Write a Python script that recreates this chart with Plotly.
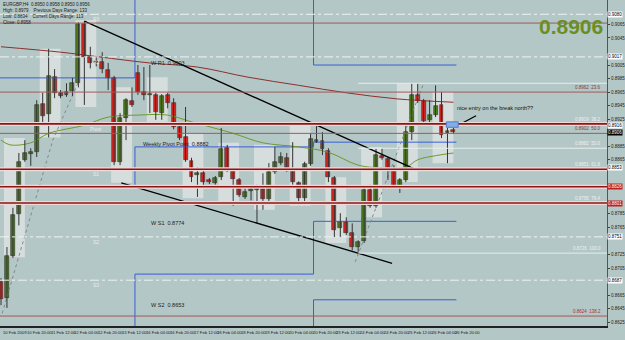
import plotly.graph_objects as go

# ---------------- data (EURGBP H4) ----------------
opens  = [0.8684,0.8661,0.8723,0.8785,0.8865,0.8873,0.8876,0.8947,0.8933,0.8987,
          0.8964,0.8961,0.8967,0.8978,0.9066,0.9017,0.9008,0.9009,0.8998,0.8986,
          0.8862,0.8927,0.8952,0.8993,0.8965,0.8961,0.8961,0.8934,0.8961,0.8949,
          0.8913,0.8898,0.8863,0.8842,0.8845,0.8835,0.8831,0.8839,0.8882,0.8850,
          0.8835,0.8810,0.8819,0.8820,0.8822,0.8807,0.8847,0.8860,0.8868,0.8848,
          0.8831,0.8808,0.8859,0.8891,0.8893,0.8878,0.8838,0.8764,0.8773,0.8757,
          0.8736,0.8745,0.8820,0.8797,0.8871,0.8866,0.8851,0.8825,0.8835,0.8906,
          0.8961,0.8952,0.8924,0.8931,0.8946,0.8904,0.8909]
highs  = [0.8690,0.8736,0.8794,0.8875,0.8894,0.8882,0.8953,0.8964,0.9029,0.8999,
          0.8968,0.8978,0.8986,0.9068,0.9070,0.9032,0.9017,0.9024,0.9008,0.8989,
          0.8934,0.8956,0.8972,0.9005,0.9002,0.9005,0.8964,0.8962,0.8964,0.8956,
          0.8919,0.8943,0.8868,0.8854,0.8850,0.8838,0.8841,0.8912,0.8887,0.8853,
          0.8838,0.8823,0.8825,0.8828,0.8845,0.8860,0.8884,0.8876,0.8875,0.8891,
          0.8833,0.8862,0.8904,0.8916,0.8906,0.8882,0.8841,0.8786,0.8780,0.8771,
          0.8746,0.8823,0.8828,0.8882,0.8882,0.8869,0.8857,0.8838,0.8916,0.8978,
          0.8978,0.8955,0.8953,0.8975,0.8965,0.8912,0.8912]
lows   = [0.8650,0.8646,0.8720,0.8768,0.8862,0.8856,0.8869,0.8916,0.8898,0.8956,
          0.8956,0.8958,0.8959,0.8972,0.8946,0.9000,0.9003,0.8993,0.8968,0.8857,
          0.8857,0.8894,0.8943,0.8961,0.8953,0.8934,0.8924,0.8924,0.8941,0.8910,
          0.8894,0.8862,0.8832,0.8810,0.8826,0.8829,0.8828,0.8835,0.8847,0.8797,
          0.8810,0.8807,0.8805,0.8771,0.8791,0.8804,0.8844,0.8857,0.8847,0.8828,
          0.8798,0.8798,0.8856,0.8890,0.8872,0.8832,0.8751,0.8751,0.8754,0.8731,
          0.8729,0.8742,0.8794,0.8794,0.8865,0.8835,0.8823,0.8816,0.8832,0.8894,
          0.8949,0.8919,0.8919,0.8928,0.8897,0.8860,0.8903]
closes = [0.8659,0.8723,0.8783,0.8862,0.8875,0.8876,0.8946,0.8930,0.8989,0.8964,
          0.8959,0.8965,0.8978,0.9066,0.9017,0.9008,0.9011,0.8999,0.8986,0.8862,
          0.8927,0.8953,0.8946,0.8965,0.8961,0.8962,0.8936,0.8959,0.8949,0.8913,
          0.8897,0.8865,0.8839,0.8845,0.8832,0.8832,0.8838,0.8881,0.8848,0.8836,
          0.8813,0.8817,0.8822,0.8823,0.8807,0.8847,0.8862,0.8869,0.8848,0.8832,
          0.8808,0.8859,0.8896,0.8894,0.8881,0.8839,0.8761,0.8773,0.8757,0.8736,
          0.8743,0.8820,0.8797,0.8872,0.8868,0.8851,0.8826,0.8835,0.8906,0.8961,
          0.8952,0.8922,0.8931,0.8944,0.8901,0.8907,0.8906]

tick_labels = ["10 Feb 2009","10 Feb 20:00","11 Feb 12:00","12 Feb 04:00","12 Feb 20:00",
               "13 Feb 12:00","16 Feb 04:00","16 Feb 20:00","17 Feb 12:00","18 Feb 04:00",
               "18 Feb 20:00","19 Feb 12:00","20 Feb 04:00","20 Feb 20:00","23 Feb 12:00",
               "24 Feb 04:00","24 Feb 20:00","25 Feb 12:00","26 Feb 04:00","26 Feb 20:00"]
tick_every = 4

price_ticks = [0.8625,0.8645,0.8665,0.8685,0.8705,0.8725,0.8745,0.8765,0.8785,0.8805,
               0.8825,0.8845,0.8865,0.8885,0.8905,0.8925,0.8945,0.8965,0.8985,0.9005,
               0.9025,0.9045,0.9065,0.9085]

# moving averages (bar index, price)
ma_slow_x = [0,10,16.5,25,33,41.5,50,58,66.5,76]
ma_slow_y = [0.9032,0.9024,0.9017,0.9008,0.9002,0.8987,0.8975,0.8964,0.8955,0.8950]
ma_fast_x = [0,1.5,5,8,14,18,23,28,32,39,44,50,55,60,64,68,70,73,76]
ma_fast_y = [0.8894,0.8887,0.8890,0.8904,0.8916,0.8928,0.8931,0.8931,0.8921,0.8904,
             0.8890,0.8884,0.8876,0.8857,0.8853,0.8854,0.8865,0.8871,0.8875]

# session boxes (bar index start/end, top/bottom price)
box_start = [1,7,13,19,25,31,37,43,49,55,61,67,73]
box_end   = [4,10,16,22,28,34,40,46,52,58,64,70,76]
box_top   = [0.8897,0.9029,0.9071,0.8972,0.8987,0.8904,0.8890,0.8887,0.8921,0.8839,0.8884,0.8978,0.8965]
box_bot   = [0.8721,0.8898,0.8943,0.8831,0.8921,0.8808,0.8798,0.8791,0.8797,0.8742,0.8780,0.8832,0.8860]

# daily pivot levels
thick_levels = [0.8918,0.8851,0.8825,0.8801]
thin_levels  = [0.9067,0.8965,0.8904,0.8634]
dashdot_levels = [0.9080,0.9017,0.8751,0.8687]
pivot_names = ["R3","R2","Pivot","S1","S2","S3"]
pivot_name_levels = [0.9080,0.9017,0.8918,0.8851,0.8751,0.8687]
fib_levels = [0.8978,0.8882,0.8727]
fib_start = 60

# weekly pivots: week boundaries (bar index) and levels
week_edges = [-0.5,22.5,52.5,76.5]
wk_r1 = [0.8986,0.9120,0.9005]
wk_p  = [0.8825,0.8884,0.8891]
wk_s1 = [0.8600,0.8696,0.8774]
wk_s2 = [0.8600,0.8600,0.8658]

# trend lines
upper_tl_x = [14,69.8];   upper_tl_y = [0.9070,0.8850]
lower_tl_x = [20.2,65.7]; lower_tl_y = [0.8831,0.8712]
dot1_x = [0.2,8.7,13];    dot1_y = [0.8638,0.8894,0.8980]
dot2_x = [59.5,71];       dot2_y = [0.8714,0.8978]
note_x = [76.8,79.8];     note_y = [0.8916,0.8930]

right_labels = [("0.8962  23.6",0.8965,"#8b3a3a"),("0.8919  38.2",0.8918,"#f0f0f0"),
                ("0.8902  50.0",0.8904,"#8b3a3a"),("0.8882  50.0",0.8882,"#f0f0f0"),
                ("0.8851  61.8",0.8851,"#f0f0f0"),("0.8795  76.4",0.8801,"#f0f0f0"),
                ("0.8726  100.0",0.8727,"#f0f0f0"),("0.8624  138.2",0.8634,"#b03030")]

axis_boxes = [(0.9080,"#ffffff","#000"),(0.9017,"#ffffff","#000"),(0.8916,"#ffffff","#000"),
              (0.8906,"#000000","#fff"),(0.8853,"#ffffff","#000"),(0.8826,"#c02020","#fff"),
              (0.8801,"#c02020","#fff"),(0.8751,"#ffffff","#000"),(0.8687,"#ffffff","#000")]

# ---------------- figure ----------------
fig = go.Figure()
n = len(opens)
idx = list(range(n))

wx, wy = [], []
for i in idx:
    wx += [i, i, None]
    wy += [lows[i], highs[i], None]

BG = "#b3c7c6"
shapes = []
for s, e, t, b in zip(box_start, box_end, box_top, box_bot):
    shapes.append(dict(type="rect", xref="x", yref="y", x0=s-0.5, x1=e, y0=b, y1=t,
                       fillcolor="rgba(236,236,236,0.62)", line=dict(width=0), layer="below"))
for lv in thin_levels:
    shapes.append(dict(type="line", xref="paper", yref="y", x0=0, x1=1, y0=lv, y1=lv,
                       line=dict(color="#a15a5a", width=1)))
for lv in dashdot_levels:
    shapes.append(dict(type="line", xref="paper", yref="y", x0=0, x1=1, y0=lv, y1=lv,
                       line=dict(color="#eef2f2", width=1, dash="dashdot")))
for lv in fib_levels:
    shapes.append(dict(type="line", xref="x", yref="y", x0=fib_start, x1=101.8, y0=lv, y1=lv,
                       line=dict(color="#e6eeee", width=1)))
for lv in thick_levels:
    shapes.append(dict(type="line", xref="paper", yref="y", x0=0, x1=1, y0=lv, y1=lv,
                       line=dict(color="#f0d8d8", width=4)))
    shapes.append(dict(type="line", xref="paper", yref="y", x0=0, x1=1, y0=lv, y1=lv,
                       line=dict(color="#8e1414", width=1.6)))
shapes.append(dict(type="rect", xref="x", yref="y", x0=74.8, x1=76.8, y0=0.8913, y1=0.8921,
                   fillcolor="#86aee6", line=dict(color="#4c7cc8", width=1)))

def step(levels):
    xs, ys = [], []
    for k, lv in enumerate(levels):
        xs += [week_edges[k], week_edges[k+1]]
        ys += [lv, lv]
    return xs, ys

for lv in (wk_r1, wk_p, wk_s1, wk_s2):
    xs, ys = step(lv)
    fig.add_trace(go.Scatter(x=xs, y=ys, mode="lines", line=dict(color="#3a5fd6", width=1),
                             hoverinfo="skip", showlegend=False))

fig.add_trace(go.Scatter(x=ma_slow_x, y=ma_slow_y, mode="lines", line=dict(color="#8e2f2f", width=1, shape="spline"),
                         hoverinfo="skip", showlegend=False))
fig.add_trace(go.Scatter(x=ma_fast_x, y=ma_fast_y, mode="lines", line=dict(color="#6f9a2a", width=1, shape="spline"),
                         hoverinfo="skip", showlegend=False))
fig.add_trace(go.Scatter(x=dot1_x, y=dot1_y, mode="lines", line=dict(color="#7d8a8a", width=1, dash="dot"),
                         hoverinfo="skip", showlegend=False))
fig.add_trace(go.Scatter(x=dot2_x, y=dot2_y, mode="lines", line=dict(color="#7d8a8a", width=1, dash="dot"),
                         hoverinfo="skip", showlegend=False))
fig.add_trace(go.Scatter(x=wx, y=wy, mode="lines", line=dict(color="#333333", width=1),
                         hoverinfo="skip", showlegend=False))

bases = [min(o, c) for o, c in zip(opens, closes)]
heights = [max(abs(c - o), 0.00012) for o, c in zip(opens, closes)]
cols = ["#4f7f1c" if c >= o else "#e0221d" for o, c in zip(opens, closes)]
fig.add_trace(go.Bar(x=idx, y=heights, base=bases, width=0.66,
                     marker=dict(color=cols, line=dict(color="#2b2b2b", width=0.6)),
                     hoverinfo="skip", showlegend=False))

for tx, ty in ((upper_tl_x, upper_tl_y), (lower_tl_x, lower_tl_y), (note_x, note_y)):
    fig.add_trace(go.Scatter(x=tx, y=ty, mode="lines", line=dict(color="#000000", width=1.3),
                             hoverinfo="skip", showlegend=False))

ann = []
F = "Liberation Sans, Arial, sans-serif"
for k, lab in enumerate(tick_labels):
    ann.append(dict(x=k*tick_every, y=-0.006, xref="x", yref="paper", text=lab, showarrow=False,
                    xanchor="left", yanchor="top", font=dict(size=4.2, color="#222", family=F)))
for nm, lv in zip(pivot_names, pivot_name_levels):
    ann.append(dict(x=16, y=lv, xref="x", yref="y", text=nm, showarrow=False, yanchor="top",
                    font=dict(size=5, color="#e8eeee", family=F)))
for txt, lv, c in right_labels:
    ann.append(dict(x=0.993, y=lv, xref="paper", yref="y", text=txt, showarrow=False, xanchor="right",
                    yanchor="bottom", font=dict(size=4.5, color=c, family=F)))
ann.append(dict(x=0.9975, y=0.9062, xref="paper", yref="y", text="<b>0.8906</b>", showarrow=False,
                xanchor="right", font=dict(size=21, color="#6b8e23", family=F)))
ann.append(dict(x=76.3, y=0.8941, xref="x", yref="y", text="nice entry on the break north??", showarrow=False,
                xanchor="left", font=dict(size=5.5, color="#111", family=F)))
for txt, x, y in (("W R1  0.9003", 24.8, 0.9008), ("Weekly Pivot Point  0.8882", 23.5, 0.8888),
                  ("W S1  0.8774", 24.8, 0.8771), ("W S2  0.8653", 24.8, 0.8650)):
    ann.append(dict(x=x, y=y, xref="x", yref="y", text=txt, showarrow=False, xanchor="left",
                    font=dict(size=5.5, color="#222", family=F)))
info = ["EURGBP,H4  0.8950 0.8958 0.8950 0.8956", "High: 0.8979    Previous Days Range: 133",
        "Low: 0.8834    Current Days Range: 113", "Close: 0.8958"]
for k, line in enumerate(info):
    ann.append(dict(x=0.002, y=1 - k*0.018, xref="paper", yref="paper", text=line, showarrow=False,
                    xanchor="left", yanchor="top", font=dict(size=4.5, color="#1a1a1a", family=F)))
for lv, bg, fg in axis_boxes:
    ann.append(dict(x=1.0, y=lv, xref="paper", yref="y", text=f"{lv:.4f}", showarrow=False, xanchor="left",
                    bgcolor=bg, borderpad=0, font=dict(size=4.5, color=fg, family=F)))

# tick labels hidden under the value boxes (as on the terminal's scale)
box_vals = [b[0] for b in axis_boxes]
shown_ticks = [t for t in price_ticks if min(abs(t - b) for b in box_vals) > 0.0009]

fig.update_layout(
    width=625, height=340, margin=dict(l=0, r=13, t=0, b=14),
    paper_bgcolor=BG, plot_bgcolor=BG, shapes=shapes, annotations=ann, bargap=0,
    font=dict(family=F, size=5, color="#222"),
    xaxis=dict(range=[-0.17, 101.8], showgrid=False, zeroline=False, showticklabels=False,
               showline=True, linecolor="#222", linewidth=2, mirror=False, fixedrange=True),
    yaxis=dict(range=[0.86193, 0.91011], side="right", showgrid=False, zeroline=False,
               tickvals=shown_ticks, ticktext=[f"{v:.4f}" for v in shown_ticks],
               tickfont=dict(size=4.5, color="#222", family=F), ticks="outside", ticklen=2,
               showline=True, linecolor="#555", linewidth=1),
)
fig.write_html("out.html")
